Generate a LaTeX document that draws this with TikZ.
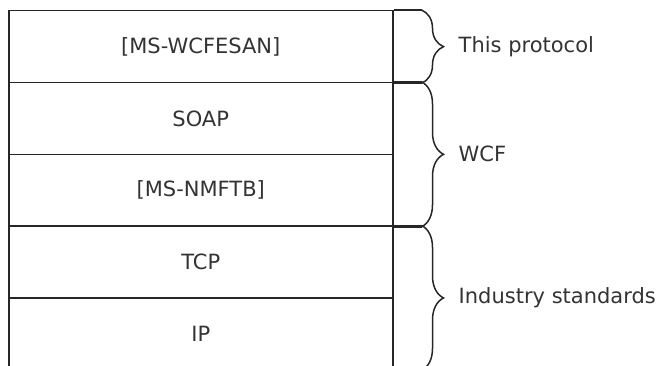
\documentclass[tikz,border=0pt]{standalone}
\usepackage{fontspec}
\setmainfont{DejaVu Sans}
\usetikzlibrary{decorations.pathreplacing}

\tikzset{
    layer/.style={draw=black!85, line width=1.5pt, text=black!80, minimum width=384pt, minimum height=71.8pt, anchor=north west, font=\fontsize{21}{25}\selectfont},
    lead/.style={draw=black!85, line width=1.5pt},
    curly/.style={draw=black!85, line width=1.5pt, decorate, decoration={brace, amplitude=22pt}},
    tag/.style={text=black!80, inner sep=0pt, anchor=west, font=\fontsize{21}{25}\selectfont},
}

\begin{document}
\begin{tikzpicture}[x=1pt, y=-1pt]
    \useasboundingbox (0,0) rectangle (661,366);
    \def\H{71.8}
    \foreach \name[
        count=\n,
        evaluate=\n as \y using 10+(\n-1)*\H,
    ] in {{[MS-WCFESAN]},SOAP,{[MS-NMFTB]},TCP,IP}{
            \node [layer] (l\n) at (8,\y) {\name};
        }
    \foreach \a/\b/\t[count=\n] in {1/1/This protocol,2/3/WCF,4/5/Industry standards}{
            \path [lead] (l\a.north east) -- ++(28,0) coordinate (top\n);
            \path [lead] (l\b.south east) -- ++(28,0) coordinate (bot\n);
            \path [curly] (top\n) -- (bot\n) coordinate[midway] (mid\n);
            \node [tag] (t\n) at ([xshift=37pt]mid\n) {\t};
        }
\end{tikzpicture}
\end{document}
